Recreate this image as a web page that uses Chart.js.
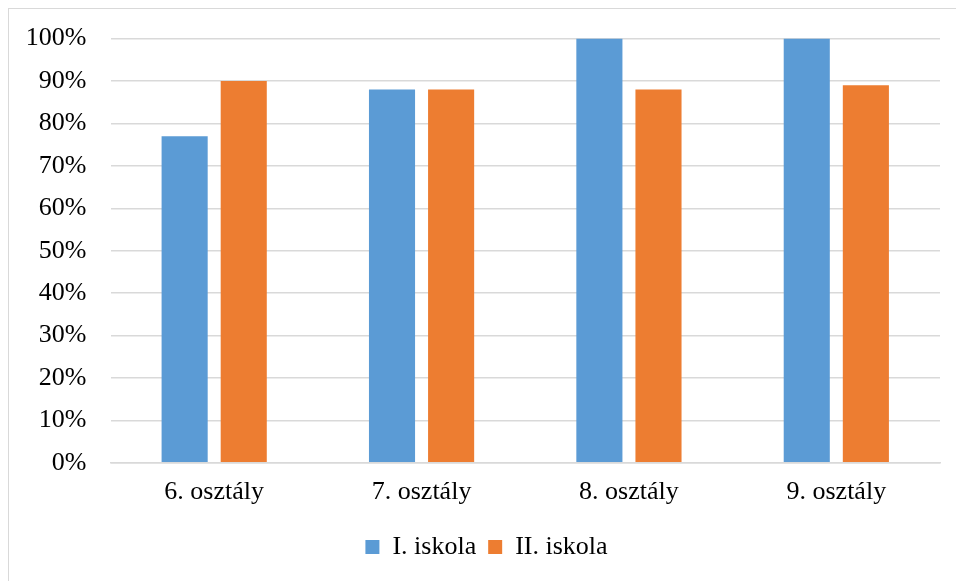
<!DOCTYPE html>
<html>
<head>
<meta charset="utf-8">
<script src="https://cdn.jsdelivr.net/npm/chart.js@4/dist/chart.umd.min.js"></script>
<style>
  html, body { margin: 0; padding: 0; background: #fff; overflow: hidden; }
  #wrap {
    position: absolute; left: 8px; top: 8px;
    width: 960px; height: 590px;
    border: 1.5px solid #d9d9d9;
    background: #fff;
    overflow: hidden;
  }
  canvas { display: block; margin-top: -10px; }
</style>
</head>
<body>
<div id="wrap"><canvas id="chart" width="947" height="590"></canvas></div>
<script>
const categories = ['6. osztály', '7. osztály', '8. osztály', '9. osztály'];
const schoolOne = [77, 88, 100, 100];
const schoolTwo = [90, 88, 88, 89];
const seriesNames = ['I. iskola', 'II. iskola'];

const serif = '"Liberation Serif", "Times New Roman", serif';

const ctx = document.getElementById('chart').getContext('2d');

// nudge the legend a bit to the right, like the original
const legendShift = {
  id: 'legendShift',
  afterLayout(chart) {
    chart.legend.left += 12;
    chart.legend.right += 12;
  }
};

const chart = new Chart(ctx, {
  type: 'bar',
  data: {
    labels: categories,
    datasets: [
      { label: seriesNames[0], data: schoolOne, backgroundColor: '#5b9bd5' },
      { label: seriesNames[1], data: schoolTwo, backgroundColor: '#ed7d31' }
    ]
  },
  options: {
    responsive: false,
    animation: false,
    categoryPercentage: 0.57,
    barPercentage: 0.78,
    layout: { padding: { left: 0, right: 16, top: 4, bottom: 19 } },
    plugins: {
      tooltip: { enabled: false },
      legend: {
        position: 'bottom',
        labels: {
          color: '#000',
          font: { family: serif, size: 26 },
          boxWidth: 14,
          boxHeight: 14,
          padding: 12
        }
      }
    },
    scales: {
      x: {
        grid: { display: false, drawTicks: false },
        border: { color: '#d9d9d9', width: 1.5 },
        ticks: { color: '#000', font: { family: serif, size: 26 }, padding: 14 }
      },
      y: {
        min: 0,
        max: 100,
        afterFit: scale => { scale.width = 101.5; },
        grid: { color: '#d9d9d9', lineWidth: 1.5, drawTicks: false },
        border: { display: false },
        ticks: {
          stepSize: 10,
          color: '#000',
          padding: 24,
          font: { family: serif, size: 26 },
          callback: v => v + '%'
        }
      }
    }
  },
  plugins: [legendShift]
});
</script>
</body>
</html>
